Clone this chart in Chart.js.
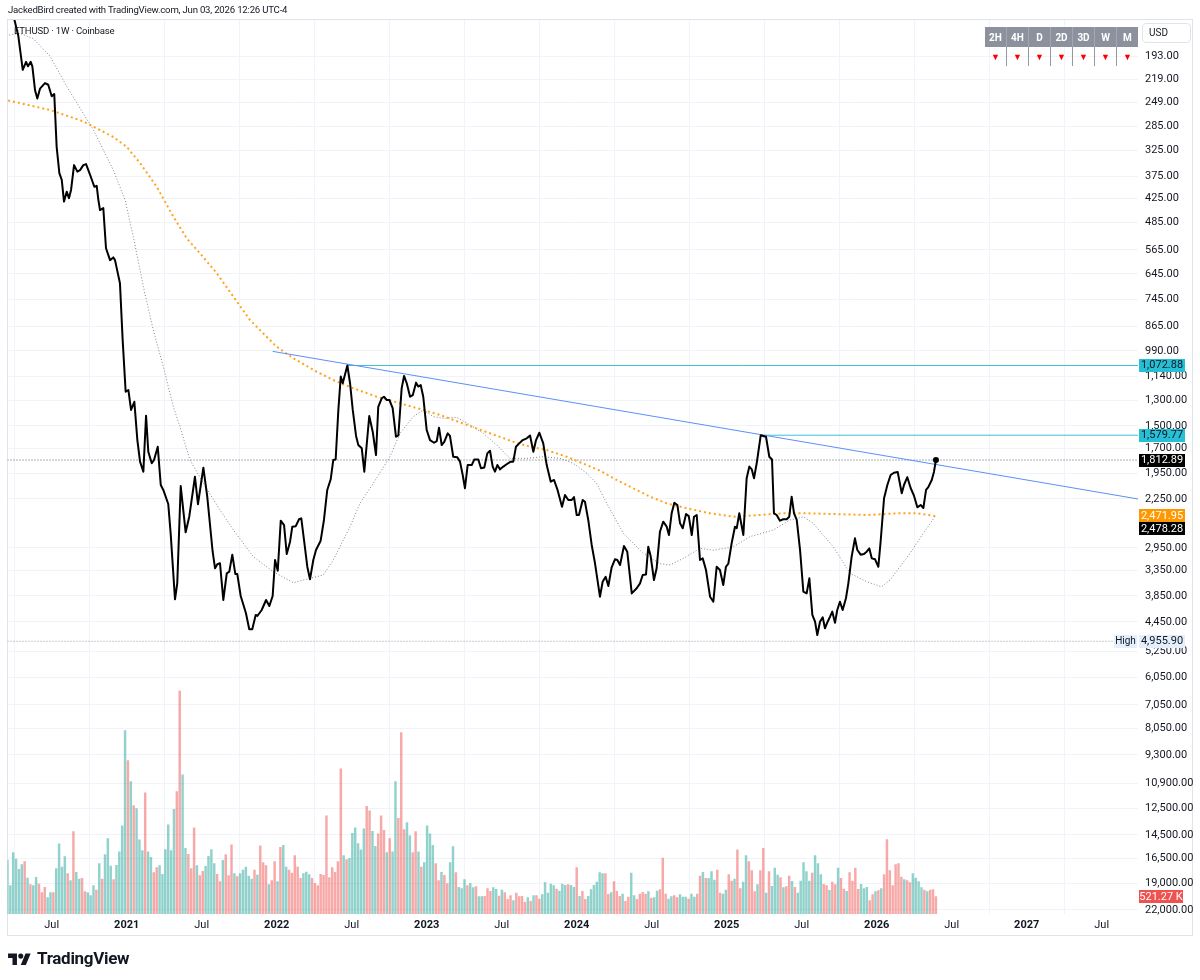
<!DOCTYPE html>
<html>
<head>
<meta charset="utf-8">
<title>ETHUSD 1W</title>
<script src="https://cdn.jsdelivr.net/npm/chart.js@4.4.1/dist/chart.umd.min.js"></script>
<style>
  html, body { margin: 0; padding: 0; background: #fff; }
  body { width: 1200px; height: 980px; position: relative; overflow: hidden; font-family: Roboto, "Noto Sans", sans-serif; color: #131722; }
  #chart { position: absolute; left: 0; top: 0; }
  .caption { position: absolute; left: 8px; top: 4px; font-size: 9.6px; letter-spacing: -0.2px; white-space: nowrap; }
  .symbol { position: absolute; left: 14px; top: 25px; font-size: 9.6px; letter-spacing: -0.2px; white-space: nowrap; }
  .usd { position: absolute; left: 1142px; top: 23px; width: 41px; height: 18px; border: 1px solid #e0e3eb; border-radius: 4px; font-size: 10px; line-height: 18px; padding-left: 6px; }
  #tf { position: absolute; left: 985px; top: 27px; border-collapse: collapse; }
  #tf th { width: 21px; height: 20px; padding: 0; background: #8c919d; color: #fff; font-size: 10px; font-weight: bold; border-left: 1px solid #a3a7b1; }
  #tf th:first-child { border-left: none; }
  #tf td { height: 19px; padding: 0; text-align: center; color: #ff0000; font-size: 9px; border-left: 1px solid #9598a1; }
  #tf td:first-child { border-left: none; }
  .logo { position: absolute; left: 8px; top: 948px; display: flex; align-items: center; gap: 6px; font-weight: bold; font-size: 17px; letter-spacing: -0.3px; }
</style>
</head>
<body>
<canvas id="chart" width="1200" height="980"></canvas>
<div class="caption">JackedBird created with TradingView.com, Jun 03, 2026 12:26 UTC-4</div>
<div class="symbol">ETHUSD · 1W · Coinbase</div>
<div class="usd">USD</div>
<table id="tf">
  <tr><th>2H</th><th>4H</th><th>D</th><th>2D</th><th>3D</th><th>W</th><th>M</th></tr>
  <tr><td>▼</td><td>▼</td><td>▼</td><td>▼</td><td>▼</td><td>▼</td><td>▼</td></tr>
</table>
<div class="logo">
  <svg width="23" height="14" viewBox="0 0 36 22"><path d="M14 22H7V11H0V4h14v18z" fill="#131722"/><circle cx="20" cy="8" r="4" fill="#131722"/><path d="M28 22h-8l7.5-18h8L28 22z" fill="#131722"/></svg>
  <span>TradingView</span>
</div>
<script>
// axis ranges (decimal years / price)
const X_MIN = 2020.2053, X_MAX = 2027.742;
const Y_MIN = 157.8, Y_MAX = 22500;

const yearTicks = [2020.5, 2021, 2021.5, 2022, 2022.5, 2023, 2023.5, 2024, 2024.5, 2025, 2025.5, 2026, 2026.5, 2027, 2027.5];
const priceTicks = [193, 219, 249, 285, 325, 375, 425, 485, 565, 645, 745, 865, 990, 1140, 1300, 1500, 1700, 1950, 2250,
  2950, 3350, 3850, 4450, 5250, 6050, 7050, 8050, 9300, 10900, 12500, 14500, 16500, 19000, 22000];

// weekly close (decimal year, USD)
const priceDates = [2020.235,2020.277,2020.307,2020.329,2020.342,2020.360,2020.371,2020.389,2020.404,2020.422,2020.455,2020.477,2020.500,2020.517,2020.533,2020.551,2020.567,2020.582,2020.600,2020.615,
  2020.629,2020.649,2020.671,2020.689,2020.711,2020.729,2020.744,2020.760,2020.784,2020.800,2020.811,2020.822,2020.844,2020.862,2020.889,2020.911,2020.922,2020.955,2020.973,2020.993,
  2021.011,2021.029,2021.051,2021.071,2021.089,2021.111,2021.129,2021.144,2021.167,2021.182,2021.207,2021.227,2021.244,2021.277,2021.293,2021.322,2021.337,2021.360,2021.393,2021.417,
  2021.455,2021.475,2021.511,2021.537,2021.573,2021.589,2021.604,2021.622,2021.644,2021.667,2021.684,2021.704,2021.724,2021.737,2021.760,2021.795,2021.817,2021.837,2021.860,2021.871,
  2021.900,2021.929,2021.951,2021.973,2021.989,2022.007,2022.027,2022.049,2022.067,2022.089,2022.104,2022.127,2022.149,2022.164,2022.182,2022.204,2022.222,2022.244,2022.262,2022.293,
  2022.315,2022.337,2022.360,2022.377,2022.393,2022.411,2022.427,2022.440,2022.471,2022.489,2022.507,2022.529,2022.544,2022.567,2022.584,2022.617,2022.640,2022.662,2022.677,2022.700,
  2022.715,2022.733,2022.751,2022.773,2022.795,2022.811,2022.833,2022.849,2022.867,2022.889,2022.907,2022.929,2022.944,2022.960,2022.977,2023.000,2023.022,2023.049,2023.067,2023.082,
  2023.100,2023.117,2023.140,2023.155,2023.177,2023.204,2023.222,2023.240,2023.255,2023.273,2023.300,2023.317,2023.344,2023.362,2023.384,2023.404,2023.422,2023.440,2023.455,2023.471,
  2023.489,2023.511,2023.533,2023.560,2023.577,2023.595,2023.617,2023.640,2023.667,2023.689,2023.711,2023.729,2023.751,2023.777,2023.800,2023.827,2023.849,2023.871,2023.902,2023.922,
  2023.944,2023.967,2023.982,2024.000,2024.015,2024.040,2024.055,2024.077,2024.100,2024.122,2024.155,2024.173,2024.193,2024.211,2024.233,2024.255,2024.271,2024.289,2024.315,2024.337,
  2024.367,2024.400,2024.422,2024.440,2024.462,2024.477,2024.493,2024.515,2024.533,2024.555,2024.577,2024.600,2024.615,2024.633,2024.651,2024.671,2024.689,2024.707,2024.729,2024.747,
  2024.767,2024.782,2024.800,2024.822,2024.840,2024.862,2024.889,2024.911,2024.933,2024.955,2024.977,2024.995,2025.011,2025.033,2025.055,2025.067,2025.084,2025.111,2025.133,2025.151,
  2025.167,2025.182,2025.200,2025.227,2025.249,2025.262,2025.284,2025.302,2025.315,2025.333,2025.355,2025.377,2025.400,2025.417,2025.433,2025.449,2025.467,2025.489,2025.511,2025.533,
  2025.551,2025.571,2025.589,2025.604,2025.622,2025.640,2025.655,2025.673,2025.689,2025.704,2025.722,2025.737,2025.755,2025.773,2025.795,2025.811,2025.833,2025.855,2025.871,2025.893,
  2025.915,2025.933,2025.951,2025.967,2025.989,2026.011,2026.027,2026.049,2026.071,2026.093,2026.115,2026.140,2026.167,2026.182,2026.204,2026.227,2026.249,2026.271,2026.293,2026.311,
  2026.329,2026.344,2026.367,2026.382,2026.395];
const priceValues = [149,172,208,199,204,199,204,233,244,231,224,226,241,238,319,369,383,432,409,424,
  405,353,366,363,353,351,363,376,398,396,428,453,448,560,598,589,598,680,931,1241,
  1229,1373,1312,1623,1829,1934,1417,1731,1846,1813,1684,2082,2140,2314,2722,3926,3593,2094,2707,2483,
  1989,2317,1892,2222,3015,3305,3233,3215,3941,3398,3368,3065,3411,3411,3855,4242,4637,4637,4282,4306,
  4166,3941,4075,3855,3157,3350,2538,2600,3054,2852,2624,2616,2518,2505,2825,3277,3513,3157,2987,2836,
  2528,2140,2017,1813,1808,1373,1141,1184,1072.88,1184,1373,1586,1668,1699,1934,1420,1549,1763,1349,1287,
  1276,1299,1299,1360,1593,1582,1218,1137,1184,1276,1265,1180,1206,1196,1276,1535,1623,1647,1632,1515,
  1668,1640,1563,1586,1780,1786,1829,1970,2120,1864,1864,1808,1808,1898,1889,1747,1722,1880,1934,1864,
  1909,1880,1856,1829,1829,1684,1653,1623,1607,1582,1731,1623,1558,1653,1864,2044,2025,2133,2349,2201,
  2262,2262,2227,2459,2459,2262,2285,2528,2904,3215,3870,3561,3464,3646,3287,3145,3157,3245,2920,3015,
  3799,3692,3593,3431,3420,2933,3088,3527,3305,2698,2552,2624,2748,2436,2297,2326,2575,2646,2446,2474,
  2748,2483,2459,3157,3128,3337,3870,3979,3277,3337,3626,3277,3221,2877,2624,2646,2436,2748,2006,1880,
  1909,2006,1846,1579.77,1588,1593,1780,1808,2436,2459,2538,2518,2518,2483,2222,2436,2528,2987,3764,3799,
  3494,4282,4445,4786,4445,4338,4611,4445,4324,4204,4470,4166,3979,4166,3903,3593,3100,2799,2987,3065,
  3054,3015,2960,3128,3145,3277,2825,2241,2082,1970,1945,1937,2180,2082,1994,2120,2212,2357,2326,2366,
  2140,2107,2025,1934,1812.89];

// slow moving average (orange, dotted)
const slowMaDates = [2020.177,2020.489,2020.711,2020.911,2021.000,2021.089,2021.200,2021.311,2021.400,2021.489,2021.600,2021.711,2021.822,2021.933,2022.000,2022.111,
  2022.267,2022.377,2022.511,2022.667,2022.822,2022.977,2023.089,2023.267,2023.422,2023.577,2023.689,2023.800,2023.933,2024.067,2024.155,2024.267,
  2024.377,2024.489,2024.600,2024.733,2024.889,2025.044,2025.222,2025.377,2025.533,2025.711,2025.933,2026.155,2026.267,2026.389];
const slowMaValues = [245,260,277,302,319,349,398,470,530,576,643,732,834,915,967,1031,
  1111,1163,1218,1276,1323,1373,1412,1492,1563,1638,1684,1715,1780,1864,1923,2025,
  2120,2222,2305,2369,2436,2483,2459,2436,2436,2446,2459,2436,2436,2471.95];

// fast moving average (gray, dotted)
const fastMaDates = [2020.217,2020.289,2020.377,2020.489,2020.600,2020.777,2020.911,2020.989,2021.044,2021.111,2021.177,2021.244,2021.311,2021.355,2021.422,2021.511,
  2021.622,2021.711,2021.844,2021.977,2022.111,2022.222,2022.311,2022.377,2022.489,2022.555,2022.644,2022.755,2022.822,2022.911,2022.977,2023.044,
  2023.111,2023.200,2023.289,2023.377,2023.467,2023.555,2023.667,2023.777,2023.889,2023.977,2024.067,2024.133,2024.200,2024.311,2024.444,2024.555,
  2024.622,2024.711,2024.822,2024.911,2025.044,2025.155,2025.311,2025.422,2025.511,2025.577,2025.711,2025.822,2025.933,2026.033,2026.089,2026.222,
  2026.311,2026.389];
const fastMaValues = [171.5,170,175,193,228,290,363,428,525,693,881,1080,1349,1507,1813,2063,
  2391,2672,3100,3368,3581,3494,3431,3157,2624,2305,2063,1780,1563,1425,1373,1425,
  1438,1430,1492,1563,1668,1796,1796,1780,1796,1846,1951,2063,2305,2722,3042,3221,
  3245,3128,2958,2990,2935,2773,2672,2528,2483,2575,2935,3398,3561,3661,3527,3042,
  2722,2478.28];

// weekly volume in thousands, first bar the week of 2020-03-16; g = up week, r = down week
const volumeFirstWeek = Date.UTC(2020, 2, 16);
const volumeK = [1620,850,1840,1650,1340,1480,1570,1080,880,850,1100,900,640,800,490,640,640,1360,2100,1410,
  1720,1210,1000,2470,1250,1050,1070,670,640,550,850,720,1510,1050,1780,2260,1440,1030,1460,1860,
  2640,5500,4600,3970,3250,3160,2220,1900,3630,1860,1700,1240,1390,1450,1190,1930,2670,1900,3140,3670,
  6680,4170,1970,1790,1360,2580,1450,1150,1280,1430,1730,1930,1510,1190,970,1610,1780,1150,2070,1210,
  1120,1210,1320,1410,1140,1050,1320,1170,2040,1540,1450,880,1000,1570,970,2000,2060,1410,1320,1230,
  1750,1410,1070,1210,1260,1180,1070,920,850,1190,1160,2940,1090,1390,1250,1570,4350,1750,1630,1670,
  2420,2580,2110,1920,2550,3230,3090,2480,2030,2400,2940,2510,1840,2260,1860,3970,2870,5440,2530,2740,
  2340,1840,2470,1860,1410,1540,2640,2400,2060,1510,1000,1250,1160,910,1540,2020,1240,800,760,1030,
  850,
  920,790,820,520,520,530,760,680,790,740,540,720,640,440,550,400,630,520,530,350,
  490,380,550,550,450,580,940,630,900,850,750,690,900,860,880,860,800,1390,530,680,
  440,530,730,860,960,1240,1210,1210,590,640,970,680,530,600,380,510,1230,550,440,600,
  650,600,670,470,490,690,730,1680,600,450,520,550,490,580,510,510,450,600,510,600,
  1140,1250,1070,1070,1270,1020,1320,630,600,720,1180,990,1050,1920,760,960,1750,1570,1300,670,
  880,1300,1970,630,1270,830,1380,1170,1090,790,820,1140,980,800,630,990,1540,1270,990,1230,
  1750,1510,1180,890,850,710,960,880,1380,1070,750,680,1240,990,1380,740,890,760,800,400,
  580,670,700,760,1180,2230,1300,850,1480,1510,1110,1030,1000,940,1210,1080,970,790,720,670,
  720,730,521.27];
const volumeDir =
  'ggggggrgrggrrrggrggggrgrggrrgggrgrgggrggggrgrgggrggrrggggggrrggrrrgrrggggrrgrrrgrgggggrgrr' +
  'rgrrgrggrrrrrgggrrrrrrrrrrrgrggggggrrggrrrgrggrrrggrrgrggggrrgrrggrgggr' +
  'ggrggrrrggrgrrrgrrrrgrgrrgggggrgggrggrgrrggggggrrgrrrgrrggrrrrgrggrrrggrrgggrggrrgrgggrrggr' +
  'rgrrggrrrgrrgrgggrgrrgrgggggrgggrrgrrgrrgrrrrgggrrgrgrrrrrrrgrrggggrgrrrr';

// descending trend line and horizontal levels
const trendDates = [2021.973, X_MAX];
const trendValues = [992, 2250];
const levelDates = [2022.471, 2025.227];
const levelValues = [1072.88, 1579.77];
const lastClose = 1812.89;
const allTimeHigh = 4955.90;
const slowMaLast = 2471.95;
const fastMaLast = 2478.28;
const lastVolumeK = 521.27;

// ---------------------------------------------------------------

const UP = 'rgba(38,166,154,0.5)', DOWN = 'rgba(239,83,80,0.5)';
const FONT = 'Roboto, "Noto Sans", sans-serif';

function decimalYear(ms) {
  const y = new Date(ms).getUTCFullYear();
  const a = Date.UTC(y, 0, 1), b = Date.UTC(y + 1, 0, 1);
  return y + (ms - a) / (b - a);
}
const fmt = v => v.toLocaleString('en-US', { minimumFractionDigits: 2, maximumFractionDigits: 2 });
const pts = (xs, ys) => xs.map((x, i) => ({ x: x, y: ys[i] }));

const WEEK = 7 * 24 * 3600 * 1000;
const volumePoints = volumeK.map((v, i) => ({ x: decimalYear(volumeFirstWeek + i * WEEK), y: v }));
const volumeColors = volumeK.map((v, i) => volumeDir[i] === 'r' ? DOWN : UP);

const flat = (from, to, v) => [{ x: from, y: v }, { x: to, y: v }];

const framePlugin = {
  id: 'frame',
  beforeDraw(chart) {
    const c = chart.ctx;
    c.save();
    c.strokeStyle = '#e0e3eb';
    c.lineWidth = 1;
    c.strokeRect(7.5, 19.5, 1185, 916);
    c.restore();
  }
};

function tag(c, x, y, w, text, bg, fg) {
  const h = 13;
  c.fillStyle = bg;
  c.fillRect(x, Math.round(y - h / 2), w, h);
  c.fillStyle = fg;
  c.textAlign = 'center';
  c.textBaseline = 'middle';
  c.fillText(text, x + w / 2, Math.round(y) + 0.5);
}

const tagPlugin = {
  id: 'tags',
  afterDraw(chart) {
    const c = chart.ctx, y = chart.scales.y, vol = chart.scales.vol;
    const x0 = chart.chartArea.right + 1, w = 46;
    c.save();
    c.font = '11px ' + FONT;
    const list = [
      { v: levelValues[0], bg: '#26bfd6', fg: '#131722' },
      { v: levelValues[1], bg: '#26bfd6', fg: '#131722' },
      { v: lastClose, bg: '#000000', fg: '#ffffff' },
      { v: slowMaLast, bg: '#ff9800', fg: '#ffffff' },
      { v: fastMaLast, bg: '#000000', fg: '#ffffff' }
    ].map(t => Object.assign(t, { py: y.getPixelForValue(t.v) })).sort((a, b) => a.py - b.py);
    let prev = -Infinity;
    list.forEach(t => {
      if (t.py < prev + 13) t.py = prev + 13;
      prev = t.py;
      tag(c, x0, t.py, w, fmt(t.v), t.bg, t.fg);
    });
    const hy = y.getPixelForValue(allTimeHigh);
    tag(c, x0, hy, w, fmt(allTimeHigh), '#e3effd', '#131722');
    c.font = '10px ' + FONT;
    tag(c, x0 - 25, hy, 23, 'High', '#e3effd', '#131722');
    c.font = '11px ' + FONT;
    tag(c, x0, vol.getPixelForValue(lastVolumeK), 44, fmt(lastVolumeK) + ' K', '#f0524f', '#ffffff');
    c.restore();
  }
};

new Chart(document.getElementById('chart'), {
  type: 'line',
  data: {
    datasets: [
      { type: 'bar', data: volumePoints, yAxisID: 'vol', backgroundColor: volumeColors, barThickness: 1.8, order: 10 },
      { data: pts(slowMaDates, slowMaValues), borderColor: '#ffa31a', borderWidth: 2, borderDash: [2, 3], pointRadius: 0, order: 5 },
      { data: pts(fastMaDates, fastMaValues), borderColor: '#80838c', borderWidth: 1, borderDash: [1, 2], pointRadius: 0, order: 5 },
      { data: flat(X_MIN, X_MAX, allTimeHigh), borderColor: '#9598a1', borderWidth: 1, borderDash: [1, 2], pointRadius: 0, order: 6 },
      { data: flat(X_MIN, X_MAX, lastClose), borderColor: '#5d606b', borderWidth: 1, borderDash: [1, 2], pointRadius: 0, order: 6 },
      { data: pts(trendDates, trendValues), borderColor: '#5b8ff9', borderWidth: 1, pointRadius: 0, order: 4 },
      { data: flat(levelDates[0], X_MAX, levelValues[0]), borderColor: '#3cc3d9', borderWidth: 1, pointRadius: 0, order: 4 },
      { data: flat(levelDates[1], X_MAX, levelValues[1]), borderColor: '#3cc3d9', borderWidth: 1, pointRadius: 0, order: 4 },
      { data: pts(priceDates, priceValues), borderColor: '#000000', borderWidth: 2, tension: 0, borderJoinStyle: 'round',
        pointRadius: c => c.dataIndex === priceValues.length - 1 ? 3 : 0, pointBackgroundColor: '#000000', pointBorderWidth: 0, order: 0 }
    ]
  },
  options: {
    responsive: false,
    animation: false,
    events: [],
    layout: { padding: { left: 7.5, top: 20, right: 0, bottom: 40 } },
    plugins: { legend: { display: false }, tooltip: { enabled: false } },
    scales: {
      x: {
        type: 'linear', min: X_MIN, max: X_MAX, offset: false,
        afterBuildTicks: s => { s.ticks = yearTicks.map(v => ({ value: v })); },
        afterFit: s => { s.height = 26; },
        grid: { color: '#f0f3fa', drawTicks: false },
        border: { display: false },
        ticks: {
          autoSkip: false, maxRotation: 0, padding: 5, color: '#131722',
          font: c => ({ family: FONT, size: 11, weight: (c.tick && Number.isInteger(c.tick.value)) ? 'bold' : 'normal' }),
          callback: v => Number.isInteger(v) ? String(v) : 'Jul'
        }
      },
      y: {
        type: 'logarithmic', position: 'right', reverse: true, min: Y_MIN, max: Y_MAX,
        afterBuildTicks: s => { s.ticks = priceTicks.map(v => ({ value: v })); },
        afterFit: s => { s.width = 62; },
        grid: { color: '#f0f3fa', drawTicks: false },
        border: { display: false },
        ticks: { autoSkip: false, padding: 7, color: '#131722', font: { family: FONT, size: 11 }, callback: v => fmt(v) }
      },
      vol: { type: 'linear', display: false, min: 0, max: 26800 }
    }
  },
  plugins: [framePlugin, tagPlugin]
});
</script>
</body>
</html>
